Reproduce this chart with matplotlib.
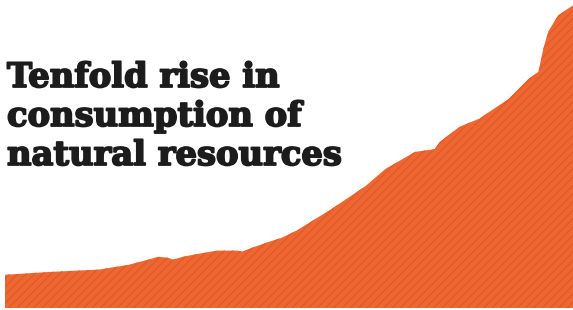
import matplotlib
matplotlib.use("Agg")
from matplotlib import pyplot as plt
import matplotlib.patheffects as pe

# global raw material extraction, billion tonnes
years = [1900, 1909, 1919, 1925, 1929, 1931, 1933, 1934, 1936, 1939, 1943,
         1947, 1948, 1950, 1953, 1956, 1959, 1966, 1973, 1977, 1983, 1987,
         1988, 1992, 1996, 2002, 2006, 2008, 2009, 2010, 2012, 2015]
values = [7.0, 7.6, 8.1, 9.1, 10.2, 10.8, 10.6, 10.2, 10.8, 11.4, 12.1,
          12.1, 11.9, 12.7, 13.8, 14.8, 16.3, 20.8, 25.7, 29.3, 32.9, 33.5,
          35.0, 38.2, 39.9, 44.1, 48.3, 49.8, 54.7, 58.3, 61.7, 63.8]

title_lines = ["Tenfold rise in", "consumption of", "natural resources"]

plt.rcParams["hatch.linewidth"] = 0.8

fig = plt.figure(figsize=(5.73, 3.10), dpi=100)
ax = fig.add_axes([5/573, 2/310, 568/573, 306/310])
ax.fill_between(years, 0, values, facecolor="#EE6630", edgecolor="#E2592A",
                hatch="////", linewidth=0)
ax.set_xlim(years[0], years[-1])
ax.set_ylim(0, 64.5)
ax.axis("off")

# headline, baselines in pixels from top
heavy = [pe.withStroke(linewidth=1.3, foreground="#1c1c1c")]
for line, ypix in zip(title_lines, [87, 126, 165]):
    fig.text(7/573, 1 - ypix/310, line, fontsize=24.3, fontweight="bold",
             family="DejaVu Serif", color="#1c1c1c", va="baseline", ha="left",
             path_effects=heavy)

fig.savefig("out.png", dpi=100)
